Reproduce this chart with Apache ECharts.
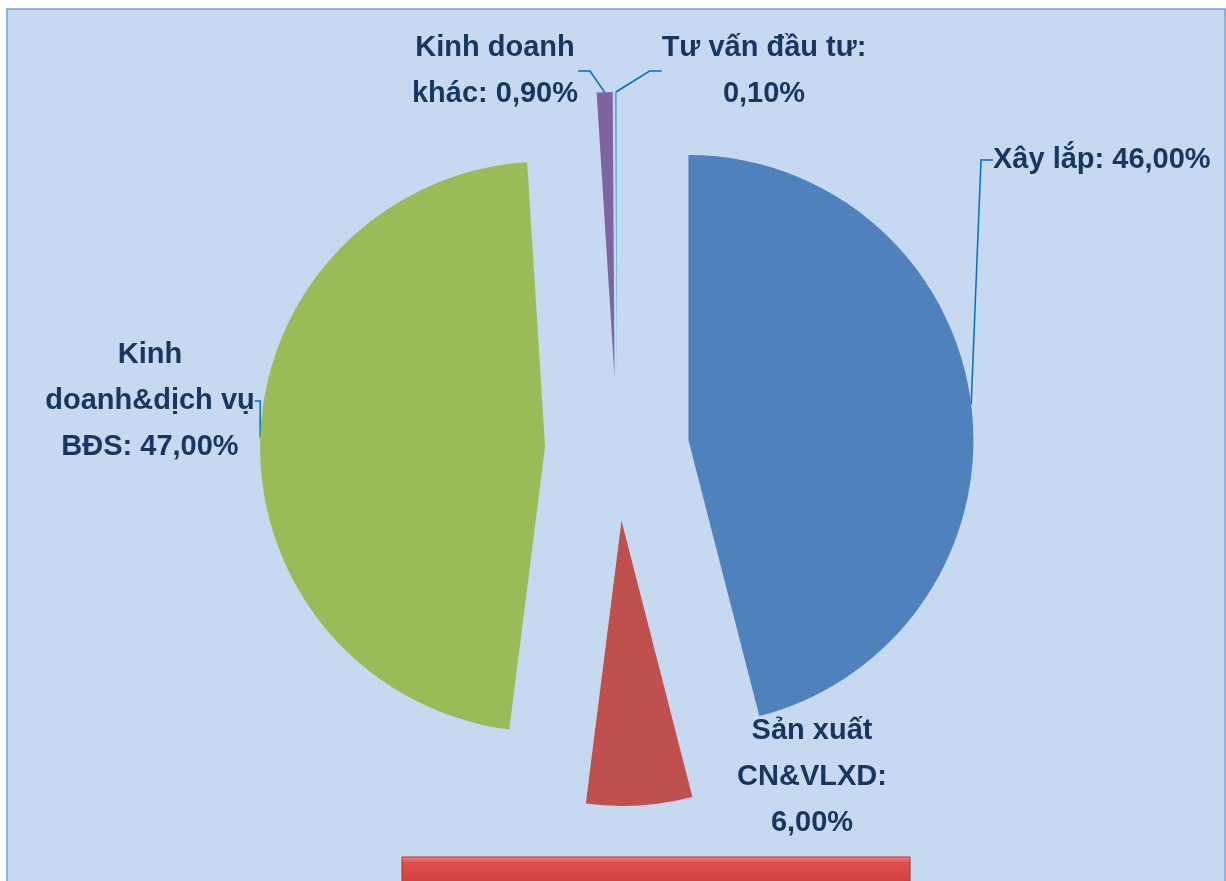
<!DOCTYPE html>
<html>
<head>
<meta charset="utf-8">
<script src="https://cdn.jsdelivr.net/npm/echarts@6/dist/echarts.min.js"></script>
<style>
html,body{margin:0;padding:0;background:#fff;}
#c{position:absolute;left:0;top:0;width:1226px;height:881px;}
</style>
</head>
<body>
<div id="c"></div>
<script>
// data
var categories = ['Xây lắp', 'Sản xuất CN&VLXD', 'Kinh doanh&dịch vụ BĐS', 'Kinh doanh khác', 'Tư vấn đầu tư'];
var values = [46.00, 6.00, 47.00, 0.90, 0.10];
var labelLines = [['Xây lắp: '], ['Sản xuất', 'CN&VLXD:', ''], ['Kinh', 'doanh&dịch vụ', 'BĐS: '], ['Kinh doanh', 'khác: '], ['Tư vấn đầu tư:', '']];
var colors = ['#4f81bd', '#c0504d', '#9bbb59', '#8064a2', '#4bacc6'];

function fmtPct(v) { return v.toFixed(2).replace('.', ',') + '%'; }

var CX = 617, CY = 449, R = 285, OFFSET = 72;
// label placement (x, y = middle of the label text)
var labelPos = [
  {x: 993, y: 160, align: 'left', line: true},
  {x: 812, y: 777, align: 'center', line: false},
  {x: 150, y: 401, align: 'center', line: true},
  {x: 495, y: 71, align: 'center', line: true},
  {x: 764, y: 71, align: 'center', line: true}
];
// explode direction of each slice (mid angle, clockwise from 12 o'clock)
var total = values.reduce(function (a, b) { return a + b; }, 0);
var shifts = [];
(function () {
  var cum = 0;
  values.forEach(function (v) {
    var mid = (cum + v / 2) / total * Math.PI * 2;
    shifts.push([OFFSET * Math.sin(mid), -OFFSET * Math.cos(mid)]);
    cum += v;
  });
})();

var series = categories.map(function (name, k) {
  return {
    type: 'pie',
    center: [CX + shifts[k][0], CY + shifts[k][1]],
    radius: [0, R],
    startAngle: 90,
    clockwise: true,
    avoidLabelOverlap: false,
    animation: false,
    silent: true,
    z: k === 4 ? 3 : 2,
    data: categories.map(function (n, i) {
      var own = i === k;
      return {
        name: n, value: values[i],
        itemStyle: {color: own ? colors[i] : 'rgba(0,0,0,0)'},
        label: {show: own},
        labelLine: {show: own && labelPos[i].line}
      };
    }),
    label: {
      formatter: function (p) {
        var l = labelLines[p.dataIndex].slice();
        l[l.length - 1] = l[l.length - 1] + fmtPct(p.value);
        return l.join('\n');
      },
      fontFamily: '"Liberation Sans", Arial, sans-serif',
      fontWeight: 'bold',
      fontSize: 29,
      lineHeight: 46,
      color: '#17375e'
    },
    labelLine: {length: 10, length2: 12, lineStyle: {color: '#0070c0', width: 1.5}},
    labelLayout: function (params) {
      var p = labelPos[params.dataIndex];
      return {x: p.x, y: p.y, align: p.align, verticalAlign: 'middle'};
    },
    emphasis: {disabled: true}
  };
});

var chart = echarts.init(document.getElementById('c'), null, {renderer: 'canvas'});
chart.setOption({
  backgroundColor: '#ffffff',
  graphic: [
    {type: 'rect', z: -10, shape: {x: 7, y: 9, width: 1218, height: 880}, style: {fill: '#c6d9f1', stroke: '#6fa2d8', lineWidth: 1.5}},
    {type: 'rect', z: 10, shape: {x: 402, y: 857, width: 508, height: 40},
      style: {fill: new echarts.graphic.LinearGradient(0, 0, 0, 1, [{offset: 0, color: '#f58a86'}, {offset: 0.15, color: '#e0504c'}, {offset: 1, color: '#c8332f'}]), stroke: '#a8322f', lineWidth: 1}}
  ],
  series: series
});
</script>
</body>
</html>
